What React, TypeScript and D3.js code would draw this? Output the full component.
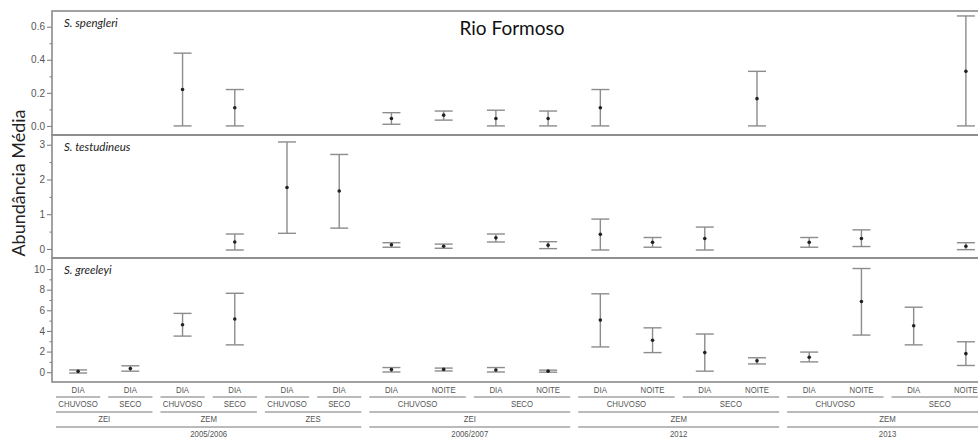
import * as d3 from 'd3'
import React, { useEffect, useRef } from 'react'

// x-axis hierarchy, one entry per category (left to right)
const timeLabels = ['DIA', 'DIA', 'DIA', 'DIA', 'DIA', 'DIA', 'DIA', 'NOITE', 'DIA', 'NOITE', 'DIA', 'NOITE', 'DIA', 'NOITE', 'DIA', 'NOITE', 'DIA', 'NOITE']
const seasonLabels = ['CHUVOSO', 'SECO', 'CHUVOSO', 'SECO', 'CHUVOSO', 'SECO', 'CHUVOSO', 'CHUVOSO', 'SECO', 'SECO', 'CHUVOSO', 'CHUVOSO', 'SECO', 'SECO', 'CHUVOSO', 'CHUVOSO', 'SECO', 'SECO']
const zoneLabels = ['ZEI', 'ZEI', 'ZEM', 'ZEM', 'ZES', 'ZES', 'ZEI', 'ZEI', 'ZEI', 'ZEI', 'ZEM', 'ZEM', 'ZEM', 'ZEM', 'ZEM', 'ZEM', 'ZEM', 'ZEM']
const yearLabels = ['2005/2006', '2005/2006', '2005/2006', '2005/2006', '2005/2006', '2005/2006', '2006/2007', '2006/2007', '2006/2007', '2006/2007', '2012', '2012', '2012', '2012', '2013', '2013', '2013', '2013']

// S. spengleri
const spengleriMean = [null, null, 0.22, 0.11, null, null, 0.045, 0.065, 0.045, 0.045, 0.11, null, null, 0.165, null, null, null, 0.33]
const spengleriLow = [null, null, 0, 0, null, null, 0.01, 0.035, 0, 0, 0, null, null, 0, null, null, null, 0]
const spengleriHigh = [null, null, 0.44, 0.22, null, null, 0.08, 0.09, 0.095, 0.09, 0.22, null, null, 0.33, null, null, null, 0.665]

// S. testudineus
const testudineusMean = [null, null, null, 0.2, 1.77, 1.67, 0.12, 0.08, 0.32, 0.11, 0.42, 0.19, 0.3, null, 0.19, 0.3, null, 0.08]
const testudineusLow = [null, null, null, -0.03, 0.45, 0.6, 0.05, 0.02, 0.2, 0.01, -0.03, 0.05, -0.03, null, 0.05, 0.07, null, -0.02]
const testudineusHigh = [null, null, null, 0.43, 3.08, 2.72, 0.18, 0.14, 0.43, 0.21, 0.86, 0.33, 0.63, null, 0.33, 0.55, null, 0.18]

// S. greeleyi
const greeleyiMean = [0.08, 0.35, 4.6, 5.15, null, null, 0.25, 0.27, 0.22, 0.1, 5.05, 3.1, 1.9, 1.1, 1.45, 6.85, 4.5, 1.8]
const greeleyiLow = [-0.08, 0.1, 3.5, 2.65, null, null, 0.02, 0.12, 0.02, 0, 2.45, 1.9, 0.1, 0.8, 1.0, 3.6, 2.65, 0.65]
const greeleyiHigh = [0.22, 0.62, 5.7, 7.65, null, null, 0.45, 0.4, 0.45, 0.2, 7.6, 4.3, 3.7, 1.4, 1.95, 10.05, 6.3, 2.95]

const panelNames = ['S. spengleri', 'S. testudineus', 'S. greeleyi']
const spengleriTicks = [0, 0.2, 0.4, 0.6]
const testudineusTicks = [0, 1, 2, 3]
const greeleyiTicks = [0, 2, 4, 6, 8, 10]

const App = () => {
  const svgRef = useRef<SVGSVGElement>(null)

  const width = 978
  const height = 442
  const left = 52
  const right = 992

  useEffect(() => {
    if (!svgRef.current) return
    const svg = d3.select(svgRef.current)
    svg.selectAll('*').remove()

    const ids = timeLabels.map((_, i) => i)
    const x = d3.scaleBand<number>().domain(ids).range([left, right]).padding(0)

    const panels = [
      { name: panelNames[0], top: 11, bottom: 135, domain: [-0.055, 0.695], ticks: spengleriTicks, step: 0.1, fmt: d3.format('.1f'), mean: spengleriMean, low: spengleriLow, high: spengleriHigh },
      { name: panelNames[1], top: 135, bottom: 258, domain: [-0.26, 3.28], ticks: testudineusTicks, step: 0.5, fmt: d3.format('d'), mean: testudineusMean, low: testudineusLow, high: testudineusHigh },
      { name: panelNames[2], top: 258, bottom: 382, domain: [-0.95, 11.07], ticks: greeleyiTicks, step: 1, fmt: d3.format('d'), mean: greeleyiMean, low: greeleyiLow, high: greeleyiHigh }
    ]

    panels.forEach((p) => {
      const y = d3.scaleLinear().domain(p.domain).range([p.bottom, p.top])
      const g = svg.append('g')

      // minor ticks
      const minor = d3.range(0, p.ticks[p.ticks.length - 1] + 1e-9, p.step).filter((v) => !p.ticks.some((t) => Math.abs(t - v) < 1e-9))
      g.append('g')
        .attr('transform', `translate(${left},0)`)
        .call(d3.axisLeft(y).tickValues(minor).tickSize(2.5).tickFormat(() => ''))
        .call((a) => a.select('.domain').remove())
        .call((a) => a.selectAll('.tick line').attr('stroke', '#777'))

      g.append('g')
        .attr('transform', `translate(${left},0)`)
        .call(d3.axisLeft(y).tickValues(p.ticks).tickSize(5).tickPadding(2).tickFormat(p.fmt as any))
        .call((a) => a.select('.domain').remove())
        .call((a) => a.selectAll('.tick line').attr('stroke', '#777'))
        .call((a) => a.selectAll('.tick text').attr('font-size', 10).attr('fill', '#555').attr('font-family', 'Liberation Sans, Arial, sans-serif'))

      // panel frame
      g.append('rect')
        .attr('x', left)
        .attr('y', p.top)
        .attr('width', right - left)
        .attr('height', p.bottom - p.top)
        .attr('fill', 'none')
        .attr('stroke', '#8a8a8a')
        .attr('stroke-width', 1.6)

      g.append('text')
        .attr('x', left + 12)
        .attr('y', p.top + 16)
        .attr('font-family', 'Lato, Open Sans, sans-serif')
        .attr('font-style', 'italic')
        .attr('font-size', 11.5)
        .attr('fill', '#222')
        .text(p.name)

      const cap = 9
      ids.forEach((i) => {
        const m = p.mean[i]
        if (m === null) return
        const cx = (x(i) as number) + x.bandwidth() / 2
        const lo = p.low[i] as number
        const hi = p.high[i] as number
        g.append('line')
          .attr('x1', cx).attr('x2', cx)
          .attr('y1', y(lo)).attr('y2', y(hi))
          .attr('stroke', '#8c8c8c').attr('stroke-width', 1.4)
        ;[lo, hi].forEach((v) => {
          g.append('line')
            .attr('x1', cx - cap).attr('x2', cx + cap)
            .attr('y1', y(v)).attr('y2', y(v))
            .attr('stroke', '#8c8c8c').attr('stroke-width', 1.4)
        })
        g.append('circle')
          .attr('cx', cx)
          .attr('cy', y(m))
          .attr('r', 1.8)
          .attr('fill', '#222')
      })
    })

    // title
    svg.append('text')
      .attr('x', 512)
      .attr('y', 35)
      .attr('text-anchor', 'middle')
      .attr('font-family', 'Lato, Open Sans, sans-serif')
      .attr('font-size', 19)
      .attr('fill', '#111')
      .text('Rio Formoso')

    // y-axis title
    svg.append('text')
      .attr('transform', 'translate(25,183) rotate(-90)')
      .attr('text-anchor', 'middle')
      .attr('font-family', 'Lato, Open Sans, sans-serif')
      .attr('font-size', 18)
      .attr('fill', '#222')
      .text('Abundância Média')

    // hierarchical x-axis labels
    const levels = [timeLabels, seasonLabels, zoneLabels, yearLabels]
    const labelY = [390, 404, 419, 434]
    const lineY = [397, 412, 427]
    const keyOf = (i: number, from: number) => levels.slice(from).map((l) => l[i]).join('|')
    const groupsAt = (from: number) => {
      const out: { start: number; end: number; label: string }[] = []
      ids.forEach((i) => {
        const last = out[out.length - 1]
        if (last && keyOf(last.end, from) === keyOf(i, from)) last.end = i
        else out.push({ start: i, end: i, label: levels[from][i] })
      })
      return out
    }
    const axisG = svg.append('g')
      .attr('font-family', 'Liberation Sans, Arial, sans-serif')
      .attr('font-size', 8.5)
      .attr('fill', '#555')

    levels.forEach((_, k) => {
      groupsAt(k).forEach((gr) => {
        const x0 = x(gr.start) as number
        const x1 = (x(gr.end) as number) + x.bandwidth()
        axisG.append('text')
          .attr('transform', `translate(${(x0 + x1) / 2},${labelY[k]}) scale(0.92,1.1)`)
          .attr('dy', '0.35em')
          .attr('text-anchor', 'middle')
          .text(gr.label)
      })
      if (k < 3) {
        groupsAt(k + 1).forEach((gr) => {
          axisG.append('line')
            .attr('x1', (x(gr.start) as number) + 4)
            .attr('x2', (x(gr.end) as number) + x.bandwidth() - 4)
            .attr('y1', lineY[k])
            .attr('y2', lineY[k])
            .attr('stroke', '#777')
            .attr('stroke-width', 1.2)
        })
      }
    })
  }, [])

  return (
    <div style={ { position: 'absolute', left: 0, top: 0, width, height, background: '#fff' } }>
      <svg ref={ svgRef } width={ width } height={ height } style={ { display: 'block' } }></svg>
    </div>
  )
}

export default App
